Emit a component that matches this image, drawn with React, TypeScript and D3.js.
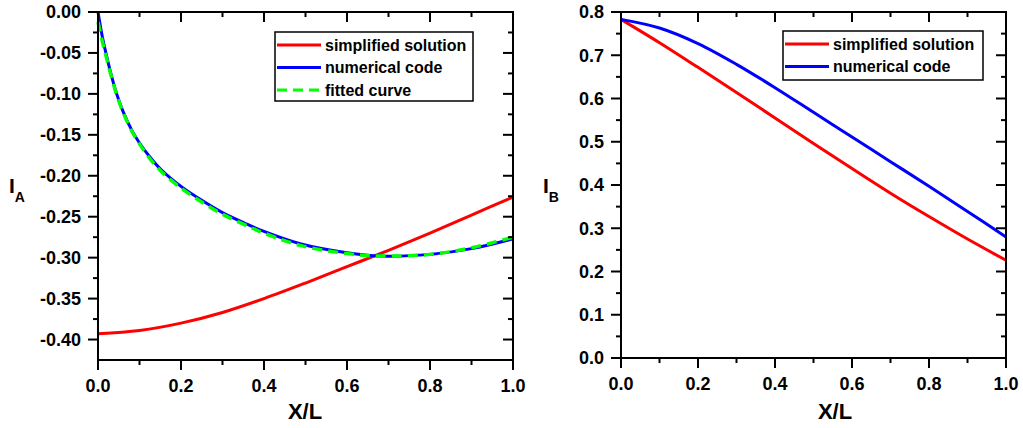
import React from 'react';
import * as d3 from 'd3';

// tick values
const xMajor = [0, 0.2, 0.4, 0.6, 0.8, 1.0];
const xMinor = [0.1, 0.3, 0.5, 0.7, 0.9];
const leftYMajor = [0, -0.05, -0.1, -0.15, -0.2, -0.25, -0.3, -0.35, -0.4];
const leftYMinor = [-0.025, -0.075, -0.125, -0.175, -0.225, -0.275, -0.325, -0.375];
const rightYMajor = [0, 0.1, 0.2, 0.3, 0.4, 0.5, 0.6, 0.7, 0.8];
const rightYMinor = [0.05, 0.15, 0.25, 0.35, 0.45, 0.55, 0.65, 0.75];

// left panel: I_A
const leftSimpX = [0, 0.1, 0.2, 0.3, 0.4, 0.5, 0.6, 0.7, 0.8, 0.9, 1.0];
const leftSimpY = [-0.393, -0.389, -0.38, -0.367, -0.35, -0.331, -0.311, -0.291, -0.27, -0.248, -0.226];
const leftNumX = [0, 0.01, 0.019, 0.03, 0.045, 0.06, 0.081, 0.1, 0.125, 0.153, 0.2, 0.25, 0.3, 0.354, 0.4, 0.487, 0.6, 0.68, 0.8, 0.9, 1.0];
const leftNumY = [0, -0.029, -0.05, -0.073, -0.1, -0.121, -0.144, -0.16, -0.177, -0.193, -0.213, -0.23, -0.245, -0.258, -0.268, -0.283, -0.294, -0.298, -0.296, -0.289, -0.277];
const leftFitX = [0, 0.01, 0.019, 0.03, 0.045, 0.06, 0.081, 0.1, 0.125, 0.153, 0.2, 0.25, 0.3, 0.354, 0.4, 0.487, 0.6, 0.68, 0.8, 0.9, 1.0];
const leftFitY = [-0.012, -0.035, -0.053, -0.075, -0.101, -0.122, -0.145, -0.161, -0.179, -0.195, -0.215, -0.232, -0.247, -0.26, -0.27, -0.285, -0.295, -0.298, -0.296, -0.288, -0.275];

// right panel: I_B
const rightX = [0, 0.1, 0.2, 0.3, 0.4, 0.5, 0.6, 0.7, 0.8, 0.9, 1.0];
const rightSimpY = [0.783, 0.729, 0.672, 0.614, 0.555, 0.496, 0.438, 0.381, 0.327, 0.275, 0.226];
const rightNumY = [0.783, 0.763, 0.727, 0.679, 0.625, 0.568, 0.511, 0.454, 0.397, 0.339, 0.28];

const FONT = '"Liberation Sans", Arial, Helvetica, sans-serif';

type Series = { xs: number[]; ys: number[]; color: string; dash?: string; name: string };

type PanelProps = {
  left: number;
  right: number;
  top: number;
  bottom: number;
  yDomain: [number, number];
  yMajor: number[];
  yMinor: number[];
  yDigits: number;
  series: Series[];
  legend: { x: number; y: number; w: number; h: number };
  yTitle: { x: number; y: number; main: string; sub: string };
  xTitleX: number;
};

const Panel = (p: PanelProps) => {
  const x = d3.scaleLinear().domain([0, 1]).range([p.left, p.right]);
  const y = d3.scaleLinear().domain(p.yDomain).range([p.bottom, p.top]);
  const major = 10;
  const minor = 5;
  const line = (s: Series) =>
    d3
      .line<number>()
      .x((_, i) => x(s.xs[i]))
      .y((d) => y(d))
      .curve(d3.curveCatmullRom.alpha(0.5))(s.ys) || '';

  return (
    <g fontFamily={FONT}>
      {/* curves */}
      {p.series.map((s) => (
        <path
          key={s.name}
          d={line(s)}
          fill="none"
          stroke={s.color}
          strokeWidth={s.dash ? 3.5 : 3}
          strokeDasharray={s.dash}
        />
      ))}

      {/* frame */}
      <rect
        x={p.left}
        y={p.top}
        width={p.right - p.left}
        height={p.bottom - p.top}
        fill="none"
        stroke="#000"
        strokeWidth={2}
      />

      {/* x ticks */}
      {xMajor.map((v) => (
        <g key={'xM' + v}>
          <line x1={x(v)} x2={x(v)} y1={p.bottom} y2={p.bottom + major} stroke="#000" strokeWidth={2} />
          <line x1={x(v)} x2={x(v)} y1={p.top} y2={p.top + major} stroke="#000" strokeWidth={2} />
          <text x={x(v)} y={p.bottom + 32} textAnchor="middle" fontSize={18} fontWeight="bold">
            {v.toFixed(1)}
          </text>
        </g>
      ))}
      {xMinor.map((v) => (
        <g key={'xm' + v}>
          <line x1={x(v)} x2={x(v)} y1={p.bottom} y2={p.bottom + minor} stroke="#000" strokeWidth={2} />
          <line x1={x(v)} x2={x(v)} y1={p.top} y2={p.top + minor} stroke="#000" strokeWidth={2} />
        </g>
      ))}

      {/* y ticks */}
      {p.yMajor.map((v) => (
        <g key={'yM' + v}>
          <line x1={p.left - major} x2={p.left} y1={y(v)} y2={y(v)} stroke="#000" strokeWidth={2} />
          <line x1={p.right - major} x2={p.right} y1={y(v)} y2={y(v)} stroke="#000" strokeWidth={2} />
          <text x={p.left - 17} y={y(v)} dy="0.36em" textAnchor="end" fontSize={18} fontWeight="bold">
            {v.toFixed(p.yDigits)}
          </text>
        </g>
      ))}
      {p.yMinor.map((v) => (
        <g key={'ym' + v}>
          <line x1={p.left - minor} x2={p.left} y1={y(v)} y2={y(v)} stroke="#000" strokeWidth={2} />
          <line x1={p.right - minor} x2={p.right} y1={y(v)} y2={y(v)} stroke="#000" strokeWidth={2} />
        </g>
      ))}

      {/* titles */}
      <text x={p.xTitleX} y={419} textAnchor="middle" fontSize={22} fontWeight="bold">
        X/L
      </text>
      <text x={p.yTitle.x} y={p.yTitle.y} fontSize={21} fontWeight="bold">
        {p.yTitle.main}
        <tspan fontSize={14} dy={9}>
          {p.yTitle.sub}
        </tspan>
      </text>

      {/* legend */}
      <rect
        x={p.legend.x}
        y={p.legend.y}
        width={p.legend.w}
        height={p.legend.h}
        fill="#fff"
        stroke="#000"
        strokeWidth={1.5}
      />
      {p.series.map((s, i) => {
        const ly = p.legend.y + 13 + i * 22.5;
        return (
          <g key={'lg' + s.name}>
            <line
              x1={p.legend.x + 2}
              x2={p.legend.x + 46}
              y1={ly}
              y2={ly}
              stroke={s.color}
              strokeWidth={3}
              strokeDasharray={s.dash}
            />
            <text x={p.legend.x + 50} y={ly} dy="0.36em" fontSize={16} fontWeight="bold">
              {s.name}
            </text>
          </g>
        );
      })}
    </g>
  );
};

export default function App() {
  return (
    <svg
      width={1023}
      height={428}
      style={{ position: 'absolute', left: 0, top: 0, background: '#fff' }}
    >
      <Panel
        left={98}
        right={513}
        top={12}
        bottom={360}
        yDomain={[-0.425, 0]}
        yMajor={leftYMajor}
        yMinor={leftYMinor}
        yDigits={2}
        series={[
          { name: 'simplified solution', xs: leftSimpX, ys: leftSimpY, color: '#ff0000' },
          { name: 'numerical code', xs: leftNumX, ys: leftNumY, color: '#0000ff' },
          { name: 'fitted curve', xs: leftFitX, ys: leftFitY, color: '#00ff00', dash: '10,6' },
        ]}
        legend={{ x: 275, y: 32, w: 198, h: 69 }}
        yTitle={{ x: 9, y: 193, main: 'I', sub: 'A' }}
        xTitleX={305}
      />
      <Panel
        left={621}
        right={1006}
        top={12}
        bottom={358}
        yDomain={[0, 0.8]}
        yMajor={rightYMajor}
        yMinor={rightYMinor}
        yDigits={1}
        series={[
          { name: 'simplified solution', xs: rightX, ys: rightSimpY, color: '#ff0000' },
          { name: 'numerical code', xs: rightX, ys: rightNumY, color: '#0000ff' },
        ]}
        legend={{ x: 783, y: 31, w: 200, h: 49 }}
        yTitle={{ x: 543, y: 193, main: 'I', sub: 'B' }}
        xTitleX={835}
      />
    </svg>
  );
}
